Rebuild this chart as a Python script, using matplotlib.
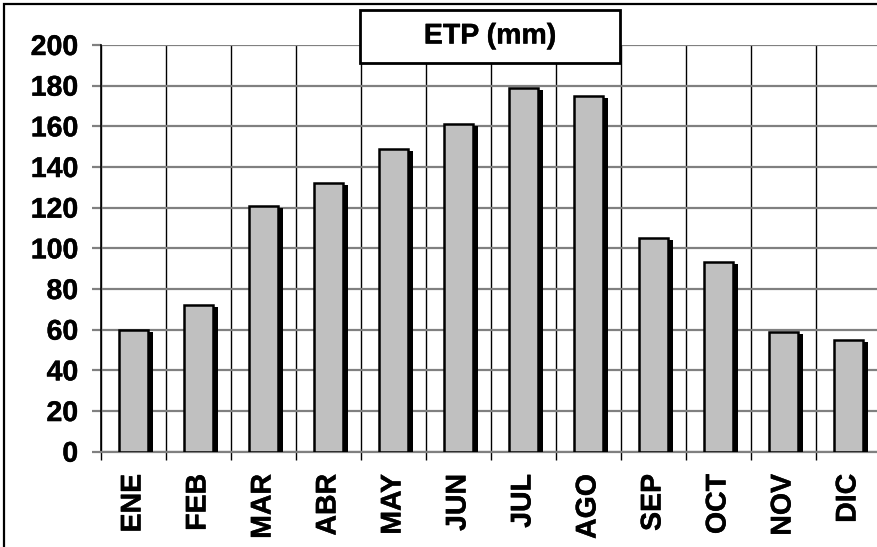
import matplotlib
matplotlib.use("Agg")
import matplotlib.pyplot as plt
import matplotlib.patheffects as pe
from matplotlib.patches import Rectangle
import numpy as np

months = ["ENE", "FEB", "MAR", "ABR", "MAY", "JUN", "JUL", "AGO", "SEP", "OCT", "NOV", "DIC"]
etp = [60, 72, 121, 132, 149, 161, 179, 175, 105, 93.5, 59, 55]
y_ticks = [0, 20, 40, 60, 80, 100, 120, 140, 160, 180, 200]
title = "ETP (mm)"

plt.rcParams["font.family"] = ["Liberation Sans", "DejaVu Sans"]
plt.rcParams["font.weight"] = "bold"

FS = 20.5
heavy = [pe.withStroke(linewidth=0.3, foreground="black")]

W, H = 878, 547
fig = plt.figure(figsize=(W / 100, H / 100), dpi=100)

# axes placed in pixel terms; right edge runs past the figure
left, right, bottom, top = 101, 881, 451.7, 45
ax = fig.add_axes([left / W, (H - bottom) / H, (right - left) / W, (bottom - top) / H])

x = np.arange(len(months))
shadow = [pe.SimplePatchShadow(offset=(3.5, -1.5), shadow_rgbFace="black", alpha=1.0), pe.Normal()]
bars = ax.bar(x, etp, width=0.45, color="#C0C0C0", edgecolor="black", linewidth=1.8, zorder=3)
for b in bars:
    b.set_path_effects(shadow)

ax.set_xlim(-0.5, len(months) - 0.5)
ax.set_ylim(0, 200)
ax.set_yticks(y_ticks)
ax.set_xticks(x)
ax.set_xticklabels(months, rotation=90, fontsize=FS, fontweight="bold")
ax.set_xticks(np.arange(-0.5, len(months)), minor=True)

ax.yaxis.grid(True, color="#808080", linewidth=1.6, zorder=1)
ax.xaxis.grid(True, which="minor", color="black", linewidth=1.0, zorder=1)
ax.set_axisbelow(True)

ax.tick_params(axis="x", which="major", length=0, pad=16)
ax.tick_params(axis="x", which="minor", length=6, width=1.0, color="black", direction="out")
ax.tick_params(axis="y", length=6.5, width=1.6, color="#808080", direction="out", pad=10, labelsize=FS)
for lbl in ax.get_yticklabels() + ax.get_xticklabels():
    lbl.set_fontweight("bold")
    lbl.set_path_effects(heavy)

ax.spines["top"].set_visible(False)
ax.spines["right"].set_visible(False)
ax.spines["left"].set_color("black")
ax.spines["left"].set_linewidth(1.2)
ax.spines["bottom"].set_color("#808080")
ax.spines["bottom"].set_linewidth(1.6)

# frame around the chart area
fig.patches.append(Rectangle((4 / W, -0.1), 1.2, (H - 4) / H + 0.1, transform=fig.transFigure,
                             fill=False, edgecolor="black", linewidth=1.6, zorder=10))

# title box
bx0, bx1, by0, by1 = 360, 620, 10, 63
fig.patches.append(Rectangle((bx0 / W, (H - by1) / H), (bx1 - bx0) / W, (by1 - by0) / H,
                             transform=fig.transFigure, facecolor="white", edgecolor="black",
                             linewidth=2.0, zorder=10))
fig.text((bx0 + bx1) / 2 / W, (H - (by0 + by1) / 2) / H, title, ha="center", va="center",
         fontsize=FS, fontweight="bold", zorder=11, path_effects=heavy)

fig.savefig("out.png", dpi=100)
